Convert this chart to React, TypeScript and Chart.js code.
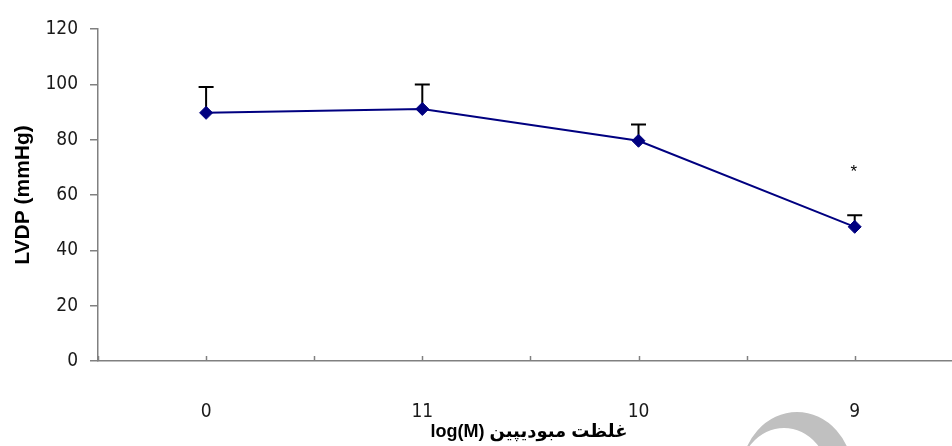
import React, { useEffect, useRef } from "react";
import { Chart, registerables } from "chart.js";

Chart.register(...registerables);

// ---- data ----
const categories: string[] = ["0", "11", "10", "9"];
const lvdpMean: number[] = [89.7, 91.1, 79.6, 48.5];
const lvdpErrUp: number[] = [9.3, 8.8, 5.9, 4.2];
const significance: string[] = ["", "", "", "*"];
const significanceLevel: number[] = [0, 0, 0, 69.4];
const yTickValues: number[] = [0, 20, 40, 60, 80, 100, 120];
const yTitle = "LVDP (mmHg)";
const xTitle = "log(M) غلظت مبودیپین";

const AXIS_GRAY = "#808080";
const NAVY = "#000080";
const TICK_FONT = "'Liberation Sans Narrow', 'DejaVu Sans Condensed', 'Liberation Sans', sans-serif";
const TITLE_FONT = "'Liberation Sans', 'DejaVu Sans', sans-serif";

const decorPlugin = {
  id: "decor",
  beforeDatasetsDraw(chart: any) {
    const { ctx, scales } = chart;
    const xs = scales.x;
    const ys = scales.y;
    ctx.save();
    // error bars (upper only)
    ctx.strokeStyle = "#000";
    ctx.lineWidth = 2;
    lvdpMean.forEach((m, i) => {
      const x = xs.getPixelForValue(2 * i + 1);
      const y0 = ys.getPixelForValue(m);
      const y1 = ys.getPixelForValue(m + lvdpErrUp[i]);
      ctx.beginPath();
      ctx.moveTo(x, y0);
      ctx.lineTo(x, y1);
      ctx.moveTo(x - 7.5, y1);
      ctx.lineTo(x + 7.5, y1);
      ctx.stroke();
    });
    ctx.restore();
  },
  afterDraw(chart: any) {
    const { ctx, scales, chartArea } = chart;
    const xs = scales.x;
    const ys = scales.y;
    ctx.save();
    // inward x tick marks
    ctx.strokeStyle = AXIS_GRAY;
    ctx.lineWidth = 1.5;
    for (let v = 0; v <= 7; v++) {
      const x = Math.round(xs.getPixelForValue(v)) + 0.5;
      ctx.beginPath();
      ctx.moveTo(x, chartArea.bottom);
      ctx.lineTo(x, chartArea.bottom - 5);
      ctx.stroke();
    }
    // significance marks
    ctx.fillStyle = "#000";
    ctx.font = "17px " + TITLE_FONT;
    ctx.textAlign = "center";
    ctx.textBaseline = "alphabetic";
    significance.forEach((s, i) => {
      if (!s) return;
      const x = xs.getPixelForValue(2 * i + 1) - 1;
      const y = ys.getPixelForValue(significanceLevel[i]);
      ctx.fillText(s, x, y + 8);
    });
    // axis titles
    ctx.font = "bold 21px " + TITLE_FONT;
    ctx.textBaseline = "middle";
    ctx.save();
    ctx.translate(23, (chartArea.top + chartArea.bottom) / 2);
    ctx.rotate(-Math.PI / 2);
    ctx.fillText(yTitle, 0, 0);
    ctx.restore();
    ctx.font = "bold 18px " + TITLE_FONT;
    ctx.direction = "ltr";
    ctx.fillText(xTitle, (chartArea.left + chartArea.right) / 2 + 4, 432);
    // watermark arc
    ctx.beginPath();
    ctx.ellipse(797, 475, 56, 63, 0, 0, Math.PI * 2);
    ctx.ellipse(784, 482, 46, 54, 0, 0, Math.PI * 2);
    ctx.fillStyle = "#c0c0c0";
    ctx.fill("evenodd");
    ctx.restore();
  },
};

export default function App() {
  const canvasRef = useRef<HTMLCanvasElement | null>(null);

  useEffect(() => {
    document.body.style.margin = "0";
    const canvas = canvasRef.current;
    if (!canvas) return;
    const chart = new Chart(canvas, {
      type: "line",
      data: {
        datasets: [
          {
            label: "LVDP",
            data: lvdpMean.map((v, i) => ({ x: 2 * i + 1, y: v })),
            borderColor: NAVY,
            backgroundColor: NAVY,
            borderWidth: 2,
            pointStyle: "rectRot",
            pointRadius: 6.5,
            pointBackgroundColor: NAVY,
            pointBorderColor: NAVY,
            pointBorderWidth: 1,
            tension: 0,
          },
        ],
      },
      options: {
        animation: false,
        responsive: false,
        maintainAspectRatio: false,
        devicePixelRatio: 1,
        layout: { autoPadding: false, padding: { top: 29, left: 0, right: 0, bottom: 0 } },
        plugins: {
          legend: { display: false },
          tooltip: { enabled: false },
        },
        scales: {
          x: {
            type: "linear",
            min: 0,
            max: 7.9,
            afterFit: (s: any) => {
              s.height = 85;
              s.paddingLeft = 0;
              s.paddingRight = 0;
            },
            afterBuildTicks: (s: any) => {
              s.ticks = [0, 1, 2, 3, 4, 5, 6, 7].map((v) => ({ value: v }));
            },
            grid: { display: false, drawTicks: false },
            border: { display: true, color: AXIS_GRAY, width: 1.5 },
            ticks: {
              autoSkip: false,
              maxRotation: 0,
              padding: 40,
              color: "#1a1a1a",
              font: { family: TICK_FONT, size: 19 },
              callback: (v: any) => {
                const n = Number(v);
                return n % 2 === 1 ? categories[(n - 1) / 2] : "";
              },
            },
          },
          y: {
            min: 0,
            max: 120,
            afterFit: (s: any) => {
              s.width = 98;
              s.paddingTop = 0;
              s.paddingBottom = 0;
            },
            afterBuildTicks: (s: any) => {
              s.ticks = yTickValues.map((v) => ({ value: v }));
            },
            grid: {
              drawOnChartArea: false,
              drawTicks: true,
              tickLength: 8,
              color: AXIS_GRAY,
              lineWidth: 1.5,
            },
            border: { display: true, color: AXIS_GRAY, width: 1.5 },
            ticks: {
              padding: 12,
              color: "#1a1a1a",
              font: { family: TICK_FONT, size: 19 },
            },
          },
        },
      },
      plugins: [decorPlugin],
    });
    return () => chart.destroy();
  }, []);

  return (
    <div style={{ position: "fixed", left: 0, top: 0, width: 952, height: 446, background: "#fff" }}>
      <canvas ref={canvasRef} width={952} height={446} style={{ display: "block", width: 952, height: 446 }} />
    </div>
  );
}
